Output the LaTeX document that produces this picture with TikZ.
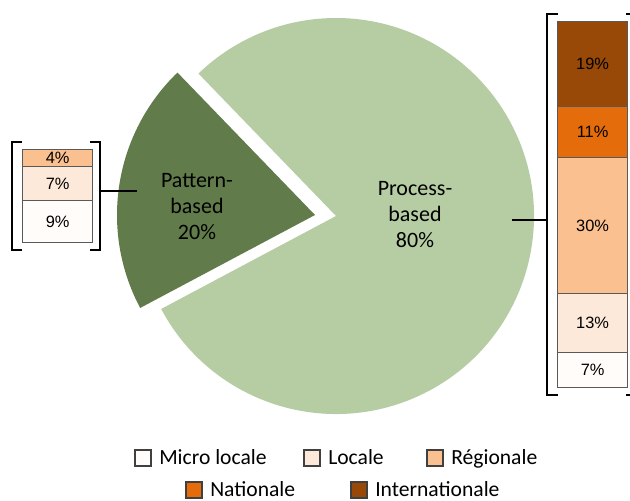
\documentclass[tikz,border=0pt]{standalone}
\usepackage{fontspec}
\setmainfont{Carlito}
\newfontfamily\barfont{Liberation Sans}

\definecolor{procgreen}{HTML}{B6CDA4}
\definecolor{patgreen}{HTML}{617B4A}
\definecolor{cmicro}{HTML}{FFFCFA}
\definecolor{cloc}{HTML}{FDE9D9}
\definecolor{creg}{HTML}{FAC090}
\definecolor{cnat}{HTML}{E46C0A}
\definecolor{cint}{HTML}{984807}
\definecolor{segline}{HTML}{595959}
\definecolor{keyline}{HTML}{404040}

\begin{document}
\begin{tikzpicture}[x=0.75pt, y=0.75pt,
    seg/.style={draw=segline, line width=0.9pt, inner sep=0pt, anchor=south west,
        minimum width=52.5pt, font=\barfont\fontsize{12.3}{14}\selectfont},
    brk/.style={draw=black, line width=1pt},
    slicetxt/.style={align=center, font=\fontsize{16.5}{19.5}\selectfont},
    keybox/.style={draw=keyline, line width=1.5pt, minimum size=11.5pt, inner sep=0pt},
    keytxt/.style={anchor=base west, inner sep=0pt, font=\fontsize{16.2}{18}\selectfont}]

    \clip (0,0) rectangle (630,500);

    % pie with the exploded slice
    \fill[procgreen] (336,284) -- ++(-152:198) arc[start angle=-152, end angle=134, radius=198] -- cycle;
    \fill[patgreen] (315,285) -- ++(134:198) arc[start angle=134, end angle=208, radius=198] -- cycle;

    \node[slicetxt] (pat) at (197,293) {Pattern-\\based\\20\%};
    \node[slicetxt] (proc) at (415,285) {Process-\\based\\80\%};

    % bar of the process slice
    \foreach \i/\y/\h/\c/\pct in {1/112/35/cmicro/7,2/147/59/cloc/13,3/206/136/creg/30,4/342/51/cnat/11,5/393/85/cint/19}{
    \node[seg, fill=\c, minimum height=\h*0.75pt] (r\i) at (557,\y) {\pct\%};
}

    % bar of the pattern slice
    \foreach \i/\y/\h/\c/\pct in {1/257/42/cmicro/9,2/299/34/cloc/7,3/333/17/creg/4}{
    \node[seg, fill=\c, minimum height=\h*0.75pt] (l\i) at (22,\y) {\pct\%};
}

    % brackets and links
    \draw[brk] (558,486) -- (547,486) -- (547,105) -- (558,105);
    \draw[brk] (626,486) -- (636,486) -- (636,105) -- (626,105);
    \draw[brk] (22,358) -- (12,358) -- (12,250) -- (22,250);
    \draw[brk] (90,358) -- (100,358) -- (100,250) -- (90,250);

    \coordinate (rjoin) at (547,280);
    \coordinate (rtip) at (512,280);
    \coordinate (ljoin) at (100,309);
    \coordinate (ltip) at (137,309);
    \draw[brk] (rtip) -- (rjoin);
    \draw[brk] (ljoin) -- (ltip);

    % legend
    \foreach \i/\x/\y/\c/\txt in {1/135/42/cmicro/Micro locale,2/304/42/cloc/Locale,3/427/42/creg/Régionale,4/186/10/cnat/Nationale,5/351/10/cint/Internationale}{
    \node[keybox, fill=\c] (k\i) at (\x+8,\y) {};
    \node[keytxt] (t\i) at (\x+24,\y-6.5) {\txt};
}

\end{tikzpicture}
\end{document}
